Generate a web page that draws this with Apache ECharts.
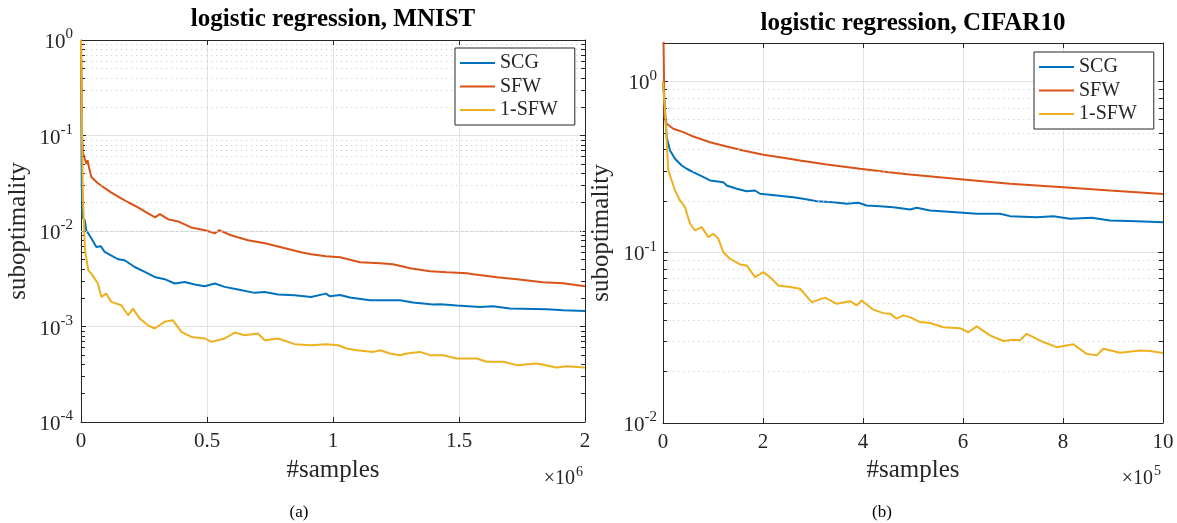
<!DOCTYPE html>
<html><head><meta charset="utf-8">
<script src="https://cdn.jsdelivr.net/npm/echarts@6/dist/echarts.min.js"></script>
<style>html,body{margin:0;padding:0;background:#fff}#c{width:1177px;height:523px}</style>
</head><body><div id="c"></div>
<script>
// ---------- data (x in units of 1e6 for MNIST, 1e5 for CIFAR10) ----------
const seriesNames = ['SCG', 'SFW', '1-SFW'];
const seriesColors = ['#0072BD', '#D95319', '#EDB120'];

const mnistXTicks = [0, 0.5, 1, 1.5, 2];
const mnistYTicks = [1e-4, 1e-3, 1e-2, 1e-1, 1];
const cifarXTicks = [0, 2, 4, 6, 8, 10];
const cifarYTicks = [1e-2, 1e-1, 1];
const cifarYMax = 1.68;
const minorMultipliers = [2, 3, 4, 5, 6, 7, 8, 9];

const mnistSCG = [[0,1],[0.003,0.03],[0.006,0.0140],[0.015,0.0129],[0.021,0.0102],[0.041,0.00839],[0.061,0.00680],[0.079,0.00692],[0.094,0.00603],[0.119,0.00557],[0.147,0.00506],[0.173,0.00494],[0.213,0.00420],[0.253,0.00373],[0.292,0.00330],[0.332,0.00313],[0.372,0.00282],[0.412,0.00293],[0.451,0.00275],[0.491,0.00264],[0.531,0.00282],[0.570,0.00260],[0.623,0.00244],[0.689,0.00225],[0.729,0.00230],[0.782,0.00216],[0.848,0.00212],[0.913,0.00204],[0.972,0.00221],[0.988,0.00207],[1.028,0.00214],[1.067,0.00201],[1.147,0.00188],[1.266,0.00188],[1.317,0.00178],[1.397,0.00170],[1.425,0.00171],[1.492,0.00166],[1.583,0.00160],[1.635,0.00163],[1.702,0.00154],[1.849,0.00152],[1.913,0.00148],[2.0,0.00145]];
const mnistSFW = [[0,1],[0.004,0.105],[0.008,0.065],[0.016,0.056],[0.022,0.050],[0.026,0.055],[0.032,0.046],[0.041,0.0367],[0.067,0.0316],[0.119,0.0254],[0.159,0.0220],[0.187,0.0200],[0.226,0.0177],[0.266,0.0153],[0.294,0.0139],[0.313,0.0150],[0.345,0.0133],[0.385,0.0126],[0.437,0.0109],[0.492,0.0102],[0.532,0.00946],[0.548,0.0102],[0.595,0.00902],[0.663,0.0080],[0.730,0.00744],[0.810,0.00659],[0.873,0.00598],[0.913,0.00571],[0.972,0.00544],[1.028,0.00531],[1.107,0.00471],[1.187,0.00460],[1.238,0.00449],[1.306,0.00407],[1.385,0.00379],[1.452,0.00370],[1.532,0.00361],[1.556,0.00352],[1.651,0.00328],[1.730,0.00313],[1.833,0.00291],[1.913,0.00284],[2.0,0.00264]];
const mnist1SFW = [[0,1],[0.004,0.1],[0.008,0.0209],[0.016,0.00628],[0.029,0.00388],[0.041,0.00358],[0.067,0.00282],[0.081,0.00204],[0.100,0.00221],[0.120,0.00181],[0.160,0.00167],[0.187,0.00131],[0.206,0.00154],[0.233,0.00121],[0.266,0.00103],[0.292,0.000953],[0.332,0.00112],[0.365,0.00116],[0.398,0.000878],[0.438,0.000778],[0.491,0.000749],[0.517,0.000690],[0.570,0.000749],[0.610,0.000865],[0.650,0.000811],[0.702,0.000845],[0.729,0.000719],[0.782,0.000749],[0.848,0.000653],[0.914,0.000637],[0.973,0.000653],[1.021,0.000637],[1.054,0.000589],[1.094,0.000565],[1.160,0.000542],[1.187,0.000565],[1.226,0.000522],[1.266,0.000501],[1.292,0.000522],[1.345,0.000542],[1.385,0.000501],[1.438,0.000501],[1.491,0.000463],[1.570,0.000463],[1.610,0.000427],[1.676,0.000427],[1.729,0.000394],[1.808,0.000410],[1.888,0.000373],[1.927,0.000384],[2.0,0.000373]];

const cifarSCG = [[0,1],[0.04,0.676],[0.074,0.472],[0.14,0.3945],[0.24,0.3527],[0.374,0.3222],[0.474,0.3083],[0.606,0.2944],[0.74,0.2816],[0.94,0.2633],[1.206,0.2573],[1.274,0.2461],[1.474,0.2353],[1.674,0.2278],[1.84,0.2300],[1.94,0.2200],[2.274,0.2150],[2.606,0.2101],[2.806,0.2056],[3.074,0.1991],[3.406,0.1964],[3.674,0.1923],[3.906,0.1949],[4.074,0.1879],[4.34,0.1862],[4.606,0.1837],[4.94,0.1781],[5.074,0.1822],[5.34,0.1757],[6.006,0.1703],[6.274,0.1680],[6.74,0.1680],[6.94,0.1627],[7.474,0.1605],[7.806,0.1627],[8.14,0.1571],[8.574,0.1592],[8.94,0.1535],[9.474,0.1521],[10,0.1500]];
const cifarSFW = [[0,3.0],[0.03,0.62],[0.074,0.565],[0.206,0.529],[0.406,0.505],[0.606,0.4764],[0.94,0.441],[1.274,0.4164],[1.606,0.3945],[2.006,0.3724],[2.34,0.3605],[2.74,0.3448],[3.274,0.3266],[3.94,0.3083],[4.606,0.2920],[4.94,0.2853],[6.006,0.2668],[6.94,0.2518],[8.006,0.2405],[8.94,0.2300],[10,0.2195]];
const cifar1SFW = [[0,1],[0.04,0.676],[0.106,0.3013],[0.174,0.2633],[0.24,0.2300],[0.34,0.2010],[0.44,0.1837],[0.54,0.1468],[0.64,0.1341],[0.774,0.1403],[0.906,0.1226],[1.006,0.1283],[1.106,0.1200],[1.206,0.1001],[1.34,0.0916],[1.54,0.0848],[1.674,0.0837],[1.84,0.0715],[2.006,0.0765],[2.14,0.0715],[2.306,0.0639],[2.54,0.0625],[2.74,0.0611],[2.974,0.0510],[3.24,0.0542],[3.474,0.0499],[3.74,0.0517],[3.874,0.0488],[3.974,0.0522],[4.206,0.0461],[4.406,0.0440],[4.54,0.0437],[4.674,0.0408],[4.806,0.0427],[4.94,0.0417],[5.14,0.0390],[5.34,0.0385],[5.606,0.0364],[5.94,0.0359],[6.106,0.0340],[6.274,0.0368],[6.54,0.0326],[6.806,0.0302],[7.006,0.0307],[7.14,0.0305],[7.274,0.0333],[7.606,0.0298],[7.874,0.0278],[8.206,0.0289],[8.474,0.0254],[8.674,0.0249],[8.806,0.0272],[9.14,0.0258],[9.54,0.0266],[9.74,0.0264],[10,0.0257]];

// ---------- styling ----------
const SERIF = '"Liberation Serif","Times New Roman",Times,serif';
const INK = '#262626';
const GRID_MAJOR = '#e3e3e3';
const GRID_MINOR = '#cdcdcd';

const chart = echarts.init(document.getElementById('c'), null, {renderer: 'canvas'});

function yLabel(v) {
  const l = Math.log10(v), e = Math.round(l);
  if (Math.abs(l - e) > 1e-6) return '';
  return '{b|10}{s|' + e + '}';
}
const yRich = {
  b: {fontFamily: SERIF, fontSize: 21, color: INK, verticalAlign: 'bottom', lineHeight: 26},
  s: {fontFamily: SERIF, fontSize: 15, color: INK, verticalAlign: 'top', lineHeight: 26}
};

function minorValues(lo, hi) {
  const out = [];
  for (let e = Math.floor(Math.log10(lo)); e <= Math.ceil(Math.log10(hi)); e++) {
    for (const m of minorMultipliers) {
      const v = m * Math.pow(10, e);
      if (v > lo * 1.0001 && v < hi * 0.9999) out.push(v);
    }
  }
  return out;
}

function minorMarks(lo, hi, xMin, xMax, tickLen) {
  const vals = minorValues(lo, hi);
  const data = [];
  vals.forEach(v => {
    data.push({yAxis: v, lineStyle: {color: GRID_MINOR, width: 1, type: [1.2, 3.8]}});
  });
  vals.forEach(v => {
    data.push([{coord: [xMin, v], lineStyle: {color: INK, width: 1, type: 'solid'}}, {coord: [xMin + tickLen, v]}]);
    data.push([{coord: [xMax - tickLen, v], lineStyle: {color: INK, width: 1, type: 'solid'}}, {coord: [xMax, v]}]);
  });
  return data;
}

function xAxisPair(gi, min, max, interval, margin, nameGap) {
  return [
    {type: 'value', gridIndex: gi, position: 'bottom', min, max, interval,
     axisLine: {show: true, onZero: false, lineStyle: {color: INK, width: 1}},
     axisTick: {show: true, inside: true, length: 5, lineStyle: {color: INK}},
     axisLabel: {fontFamily: SERIF, fontSize: 21, color: INK, margin},
     splitLine: {show: true, lineStyle: {color: GRID_MAJOR, width: 1}},
     name: '#samples', nameLocation: 'middle', nameGap,
     nameTextStyle: {fontFamily: SERIF, fontSize: 25, color: INK}},
    {type: 'value', gridIndex: gi, position: 'top', min, max, interval,
     axisLine: {show: true, onZero: false, lineStyle: {color: INK, width: 1}},
     axisTick: {show: true, inside: true, length: 5, lineStyle: {color: INK}},
     axisLabel: {show: false}, splitLine: {show: false}}
  ];
}
function yAxisPair(gi, min, max, margin, nameGap) {
  return [
    {type: 'log', logBase: 10, gridIndex: gi, position: 'left', min, max,
     axisLine: {show: true, onZero: false, lineStyle: {color: INK, width: 1}},
     axisTick: {show: true, inside: true, length: 5, lineStyle: {color: INK}},
     axisLabel: {formatter: yLabel, rich: yRich, margin},
     splitLine: {show: true, lineStyle: {color: GRID_MAJOR, width: 1}},
     minorTick: {show: false}, minorSplitLine: {show: false},
     name: 'suboptimality', nameLocation: 'middle', nameGap, nameRotate: 90,
     nameTextStyle: {fontFamily: SERIF, fontSize: 25, color: INK}},
    {type: 'log', logBase: 10, gridIndex: gi, position: 'right', min, max,
     axisLine: {show: true, onZero: false, lineStyle: {color: INK, width: 1}},
     axisTick: {show: true, inside: true, length: 5, lineStyle: {color: INK}},
     axisLabel: {show: false}, splitLine: {show: false}}
  ];
}

function curve(name, idx, data, xi, yi) {
  return {type: 'line', name, data, xAxisIndex: xi, yAxisIndex: yi,
    showSymbol: false, symbol: 'none', clip: true, z: 3 + idx,
    color: seriesColors[idx], lineStyle: {color: seriesColors[idx], width: 2},
    emphasis: {disabled: true}, animation: false};
}
function gridDecor(xi, yi, lo, hi, xMin, xMax, tickLen) {
  return {type: 'line', name: '_grid' + xi, data: [[xMin, lo]], xAxisIndex: xi, yAxisIndex: yi,
    showSymbol: false, symbol: 'none', lineStyle: {opacity: 0}, z: 1, silent: true, animation: false,
    markLine: {silent: true, symbol: 'none', animation: false, label: {show: false},
      emphasis: {disabled: true}, data: minorMarks(lo, hi, xMin, xMax, tickLen)}};
}

const legendBase = {
  orient: 'vertical', padding: [5, 17, 5, 5], itemWidth: 35, itemHeight: 2, itemGap: 3.5,
  icon: 'rect',
  textStyle: {fontFamily: SERIF, fontSize: 20, color: INK, lineHeight: 20},
  borderColor: INK, borderWidth: 1, backgroundColor: '#fff', borderRadius: 0,
  selectedMode: false, data: seriesNames, z: 10
};

const option = {
  backgroundColor: '#fff',
  animation: false,
  grid: [
    {left: 81, top: 40, width: 504, height: 382, containLabel: false},
    {left: 663, top: 43, width: 500, height: 380, containLabel: false}
  ],
  xAxis: [].concat(xAxisPair(0, 0, 2, 0.5, 9, 36), xAxisPair(1, 0, 10, 2, 9, 35)),
  yAxis: [].concat(yAxisPair(0, mnistYTicks[0], mnistYTicks[mnistYTicks.length - 1], 8, 50),
                   yAxisPair(1, cifarYTicks[0], cifarYMax, 6, 49)),
  legend: [
    Object.assign({}, legendBase, {left: 455, top: 48}),
    Object.assign({}, legendBase, {left: 1034, top: 52})
  ],
  series: [
    gridDecor(0, 0, mnistYTicks[0], mnistYTicks[mnistYTicks.length - 1], 0, 2, 2 * 4 / 504),
    gridDecor(2, 2, cifarYTicks[0], cifarYMax, 0, 10, 10 * 4 / 500),
    curve('SCG', 0, mnistSCG, 0, 0),
    curve('SFW', 1, mnistSFW, 0, 0),
    curve('1-SFW', 2, mnist1SFW, 0, 0),
    curve('SCG', 0, cifarSCG, 2, 2),
    curve('SFW', 1, cifarSFW, 2, 2),
    curve('1-SFW', 2, cifar1SFW, 2, 2)
  ],
  graphic: [
    {type: 'text', x: 333, y: 20, style: {text: 'logistic regression, MNIST', align: 'center', verticalAlign: 'middle', fill: '#000', font: 'bold 25px ' + SERIF}},
    {type: 'text', x: 913, y: 24, style: {text: 'logistic regression, CIFAR10', align: 'center', verticalAlign: 'middle', fill: '#000', font: 'bold 25px ' + SERIF}},
    {type: 'text', x: 575, y: 479, style: {text: '\u00d710', align: 'right', verticalAlign: 'middle', fill: INK, font: '20px ' + SERIF}},
    {type: 'text', x: 576, y: 472, style: {text: '6', align: 'left', verticalAlign: 'middle', fill: INK, font: '14px ' + SERIF}},
    {type: 'text', x: 1153, y: 479, style: {text: '\u00d710', align: 'right', verticalAlign: 'middle', fill: INK, font: '20px ' + SERIF}},
    {type: 'text', x: 1154, y: 471, style: {text: '5', align: 'left', verticalAlign: 'middle', fill: INK, font: '14px ' + SERIF}},
    {type: 'text', x: 299, y: 513, style: {text: '(a)', align: 'center', verticalAlign: 'middle', fill: '#000', font: '17px ' + SERIF}},
    {type: 'text', x: 882, y: 513, style: {text: '(b)', align: 'center', verticalAlign: 'middle', fill: '#000', font: '17px ' + SERIF}}
  ]
};
chart.setOption(option);
</script>
</body></html>
